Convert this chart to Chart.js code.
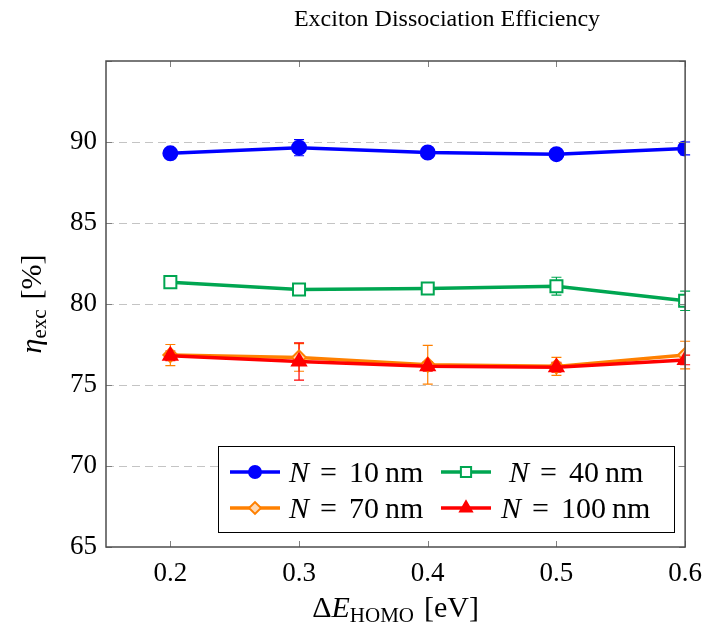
<!DOCTYPE html>
<html>
<head>
<meta charset="utf-8">
<script src="https://cdn.jsdelivr.net/npm/chart.js@4.4.1/dist/chart.umd.min.js"></script>
<style>
  html, body { margin: 0; padding: 0; background: #fff; }
  #wrap { width: 713px; height: 634px; }
</style>
</head>
<body>
<div id="wrap"><canvas id="myChart" width="713" height="634"></canvas></div>
<script>
'use strict';

// data
const deltaE = [0.2, 0.3, 0.4, 0.5, 0.6];
const eta10 = [89.3, 89.65, 89.35, 89.25, 89.6];
const err10 = [0.2, 0.5, 0.2, 0.2, 0.4];
const eta40 = [81.35, 80.9, 80.95, 81.1, 80.2];
const err40 = [0.2, 0.2, 0.2, 0.55, 0.6];
const eta70 = [76.85, 76.7, 76.25, 76.15, 76.85];
const err70 = [0.65, 0.85, 1.2, 0.55, 0.85];
const eta100 = [76.8, 76.45, 76.15, 76.1, 76.55];
const err100 = [0.3, 1.15, 0.3, 0.3, 0.3];
const seriesNames = ['10', '40', '70', '100'];
const xTicks = [0.2, 0.3, 0.4, 0.5, 0.6];
const yTicks = [65, 70, 75, 80, 85, 90, 95];

const SERIF = '"Liberation Serif", "DejaVu Serif", serif';

const toPoints = (ys) => ys.map((y, i) => ({ x: deltaE[i], y: y }));

function makeSet(name, ys, errs, color, style, radius, fill, order) {
  return {
    label: name,
    data: toPoints(ys),
    errors: errs,
    borderColor: color,
    backgroundColor: color,
    borderWidth: 3.5,
    pointStyle: style,
    pointRadius: radius,
    pointHoverRadius: radius,
    pointBackgroundColor: fill,
    pointBorderColor: color,
    pointBorderWidth: 2,
    tension: 0,
    order: order,
  };
}

const datasets = [
  makeSet(seriesNames[0], eta10, err10, '#0000ff', 'circle', 7, '#0000ff', 3),
  makeSet(seriesNames[1], eta40, err40, '#00a651', 'rect', 8.5, '#ffffff', 2),
  makeSet(seriesNames[2], eta70, err70, '#ff8000', 'rectRot', 7, '#ffd9b3', 1),
  makeSet(seriesNames[3], eta100, err100, '#ff0000', 'triangle', 8, '#ff0000', 0),
];

// draw a run of text pieces: {t, font, dy, gap}
function richText(ctx, parts, x, y, align) {
  let total = 0;
  parts.forEach(p => { ctx.font = p.font; total += (p.gap || 0) + ctx.measureText(p.t).width; });
  let cx = align === 'center' ? x - total / 2 : x;
  ctx.textAlign = 'left';
  ctx.textBaseline = 'alphabetic';
  parts.forEach(p => {
    ctx.font = p.font;
    cx += p.gap || 0;
    ctx.fillText(p.t, cx, y + (p.dy || 0));
    cx += ctx.measureText(p.t).width;
  });
  return total;
}

const errorBars = {
  id: 'errorBars',
  beforeDatasetsDraw(chart) {
    const ctx = chart.ctx;
    const xs = chart.scales.x, ys = chart.scales.y;
    chart.data.datasets.forEach(ds => {
      ctx.save();
      ctx.strokeStyle = ds.borderColor;
      ctx.lineWidth = 1.2;
      ds.data.forEach((p, i) => {
        const e = ds.errors[i];
        const px = xs.getPixelForValue(p.x);
        const y1 = ys.getPixelForValue(p.y - e);
        const y2 = ys.getPixelForValue(p.y + e);
        ctx.beginPath();
        ctx.moveTo(px, y1); ctx.lineTo(px, y2);
        ctx.moveTo(px - 5, y1); ctx.lineTo(px + 5, y1);
        ctx.moveTo(px - 5, y2); ctx.lineTo(px + 5, y2);
        ctx.stroke();
      });
      ctx.restore();
    });
  }
};

const frameAndText = {
  id: 'frameAndText',
  afterDraw(chart) {
    const ctx = chart.ctx;
    const a = chart.chartArea;
    const xs = chart.scales.x, ys = chart.scales.y;
    ctx.save();

    // inward ticks
    ctx.strokeStyle = '#808080';
    ctx.lineWidth = 1;
    ctx.beginPath();
    xTicks.forEach(v => {
      const px = Math.round(xs.getPixelForValue(v)) + 0.5;
      ctx.moveTo(px, a.bottom); ctx.lineTo(px, a.bottom - 6);
      ctx.moveTo(px, a.top); ctx.lineTo(px, a.top + 6);
    });
    yTicks.forEach(v => {
      const py = Math.round(ys.getPixelForValue(v)) + 0.5;
      ctx.moveTo(a.left, py); ctx.lineTo(a.left + 6, py);
      ctx.moveTo(a.right, py); ctx.lineTo(a.right - 6, py);
    });
    ctx.stroke();

    // frame
    ctx.strokeStyle = '#4d4d4d';
    ctx.lineWidth = 1.5;
    ctx.strokeRect(a.left, a.top, a.right - a.left, a.bottom - a.top);

    ctx.fillStyle = '#000';
    // title
    richText(ctx, [{ t: 'Exciton Dissociation Efficiency', font: '24px ' + SERIF }], 447, 26, 'center');

    // x title
    const xc = (a.left + a.right) / 2;
    richText(ctx, [
      { t: 'Δ', font: '30px ' + SERIF },
      { t: 'E', font: 'italic 30px ' + SERIF },
      { t: 'HOMO', font: '21px ' + SERIF, dy: 5 },
      { t: '[eV]', font: '30px ' + SERIF, gap: 10 },
    ], xc, 617, 'center');

    // y title
    ctx.save();
    ctx.translate(41, (a.top + a.bottom) / 2);
    ctx.rotate(-Math.PI / 2);
    richText(ctx, [
      { t: 'η', font: 'italic 30px ' + SERIF },
      { t: 'exc', font: '21px ' + SERIF, dy: 5 },
      { t: '[%]', font: '30px ' + SERIF, gap: 10 },
    ], 0, 0, 'center');
    ctx.restore();

    // legend
    const bx = 218, by = 446, bw = 456, bh = 86;
    ctx.fillStyle = '#fff';
    ctx.fillRect(bx, by, bw, bh);
    ctx.strokeStyle = '#000';
    ctx.lineWidth = 1;
    ctx.strokeRect(bx + 0.5, by + 0.5, bw, bh);
    const cols = [230, 441];
    const rows = [472, 508];
    const textX = [289, 501];
    chart.data.datasets.forEach((ds, i) => {
      const col = i % 2, row = Math.floor(i / 2);
      const lx = cols[col], ly = rows[row];
      ctx.strokeStyle = ds.borderColor;
      ctx.lineWidth = ds.borderWidth;
      ctx.beginPath();
      ctx.moveTo(lx, ly); ctx.lineTo(lx + 50, ly);
      ctx.stroke();
      ctx.fillStyle = ds.pointBackgroundColor;
      ctx.strokeStyle = ds.pointBorderColor;
      ctx.lineWidth = ds.pointBorderWidth;
      Chart.helpers.drawPoint(ctx, { pointStyle: ds.pointStyle, radius: ds.pointRadius * 0.85, borderWidth: ds.pointBorderWidth }, lx + 25, ly);
      ctx.fillStyle = '#000';
      const tx = (i === 1) ? textX[1] + 8 : textX[col];
      richText(ctx, [
        { t: 'N', font: 'italic 30px ' + SERIF },
        { t: '=', font: '30px ' + SERIF, gap: 11 },
        { t: ds.label, font: '30px ' + SERIF, gap: 12 },
        { t: 'nm', font: '30px ' + SERIF, gap: 6 },
      ], tx, ly + 10, 'left');
    });

    ctx.restore();
  }
};

const ctx = document.getElementById('myChart').getContext('2d');
const myChart = new Chart(ctx, {
  type: 'line',
  data: { datasets: datasets },
  options: {
    responsive: false,
    animation: false,
    layout: { padding: { left: 0, right: 21, top: 61, bottom: 0 } },
    plugins: {
      legend: { display: false },
      title: { display: false },
      tooltip: { enabled: false },
    },
    scales: {
      x: {
        type: 'linear',
        min: 0.15,
        max: 0.6,
        afterBuildTicks: (s) => { s.ticks = xTicks.map(v => ({ value: v })); },
        afterFit: (s) => { s.height = 87; },
        grid: { display: false, drawTicks: false },
        border: { display: false },
        ticks: {
          padding: 11,
          color: '#000',
          font: { family: SERIF, size: 27 },
          callback: (v) => v.toFixed(1),
        },
      },
      y: {
        type: 'linear',
        min: 65,
        max: 95,
        afterBuildTicks: (s) => { s.ticks = yTicks.map(v => ({ value: v })); },
        afterFit: (s) => { s.width = 106; },
        grid: { color: (c) => (c.tick && (c.tick.value === 65 || c.tick.value === 95)) ? 'rgba(0,0,0,0)' : '#c4c4c4', drawTicks: false, lineWidth: 1 },
        border: { display: false, dash: [8, 5] },
        ticks: {
          padding: 9,
          color: '#000',
          font: { family: SERIF, size: 27 },
          callback: (v) => v === 95 ? '' : v,
        },
      },
    },
  },
  plugins: [errorBars, frameAndText],
});
</script>
</body>
</html>
